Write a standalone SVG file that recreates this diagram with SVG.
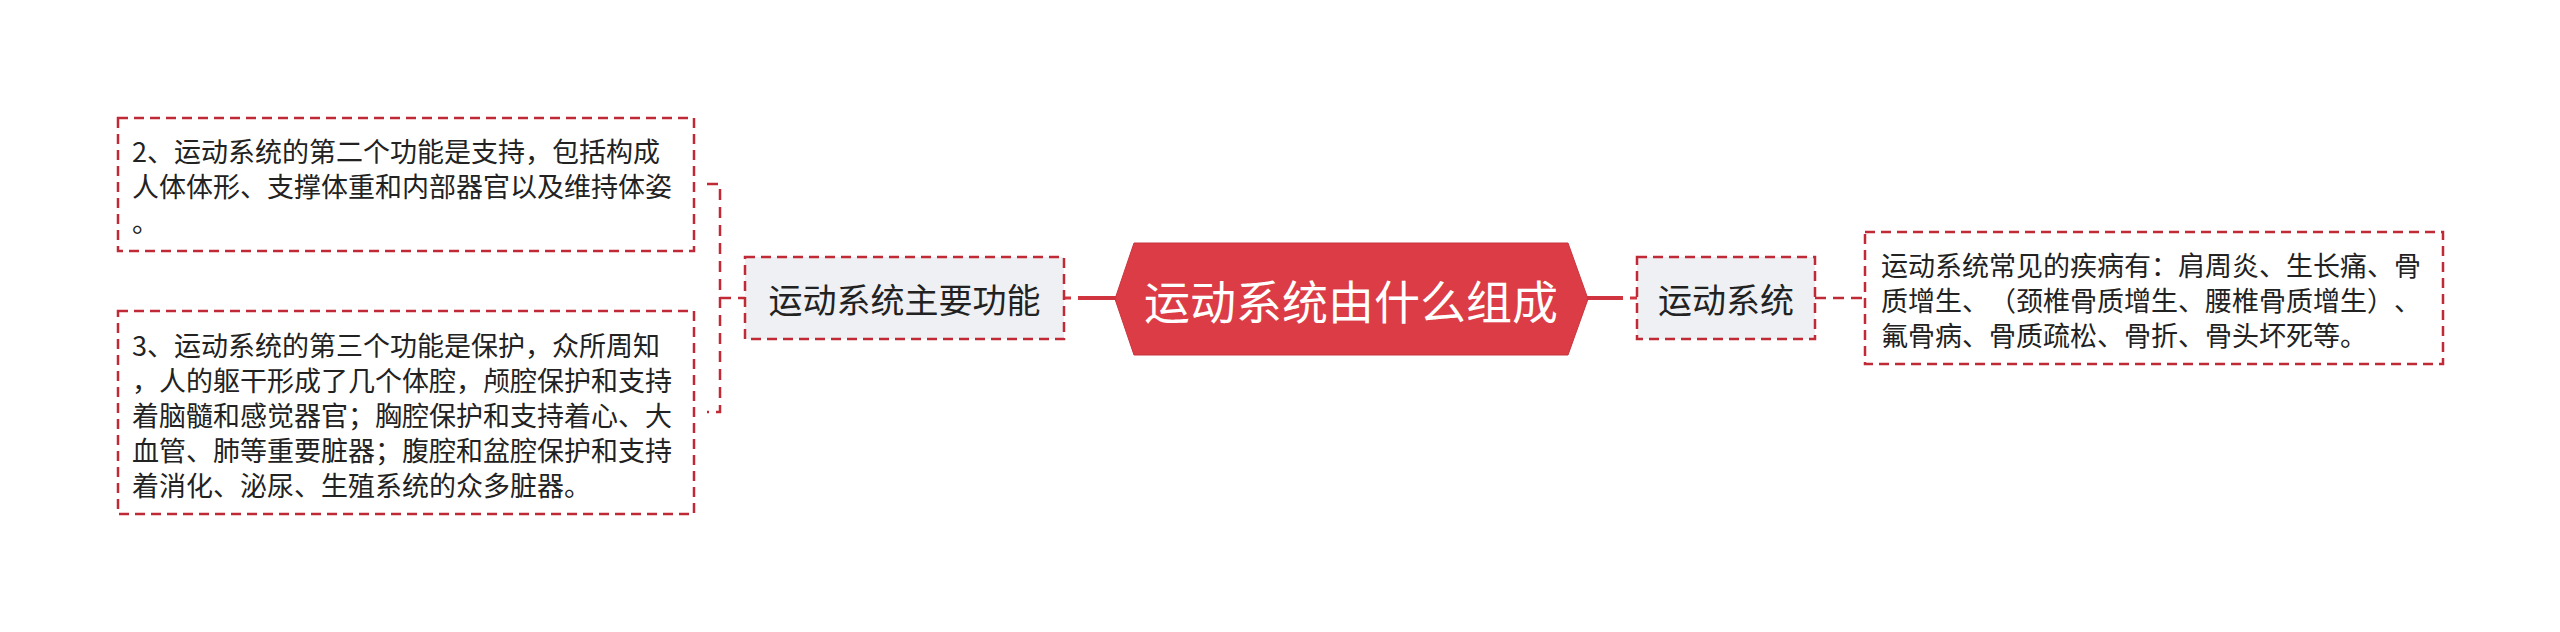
<svg xmlns="http://www.w3.org/2000/svg" width="2560" height="632" viewBox="0 0 2560 632">
<style>
.bg{fill:#ffffff}
.dbox{stroke:#bf2a36;stroke-width:2.5;stroke-dasharray:10 6}
.leaf{fill:#ffffff}
.sub{fill:#eef0f3}
.dash{fill:none;stroke:#bf2a36;stroke-width:2.5;stroke-dasharray:11 7}
.solid{fill:none;stroke:#d0343e;stroke-width:4}
.t{font-family:"Noto Sans CJK SC","Noto Sans",sans-serif;fill:#222222;text-spacing-trim:space-all}
.leaft{font-size:27px}
.subt{font-size:34px;text-anchor:middle;dominant-baseline:central}
.roott{font-family:"Noto Sans CJK SC","Noto Sans",sans-serif;font-size:46px;fill:#ffffff;text-anchor:middle;dominant-baseline:central}
</style>
<rect class="bg" x="0" y="0" width="2560" height="632"/>
<g id="connectors">
<line class="solid" x1="1078" y1="298" x2="1116" y2="298"/>
<line class="solid" x1="1064" y1="298" x2="1071" y2="298" style="stroke-width:3"/>
<line class="solid" x1="1587" y1="298" x2="1623" y2="298"/>
<line class="solid" x1="1630" y1="298" x2="1637" y2="298" style="stroke-width:3"/>
<path class="dash" d="M707,184 H720 V412 H707"/>
<path class="dash" d="M720,298 H745"/>
<path class="dash" d="M1815,298 H1865"/>
</g>
<g id="root">
<polygon points="1115,299 1134,243 1568,243 1588,299 1568,355 1134,355" fill="#dc3c45" stroke="#c9343d" stroke-width="1"/>
<text class="roott" x="1351" y="299">运动系统由什么组成</text>
</g>
<g id="main-functions">
<rect class="dbox sub" x="745" y="257" width="319" height="82"/>
<text class="t subt" x="904.5" y="298">运动系统主要功能</text>
</g>
<g id="support">
<rect class="dbox leaf" x="118" y="118" width="576" height="133"/>
<text class="t leaft" dominant-baseline="central">
<tspan x="132" y="149.5">2、运动系统的第二个功能是支持，包括构成</tspan>
<tspan x="132" y="184.5">人体体形、支撑体重和内部器官以及维持体姿</tspan>
<tspan x="132" y="219.5">。</tspan>
</text>
</g>
<g id="protection">
<rect class="dbox leaf" x="118" y="311" width="576" height="203"/>
<text class="t leaft" dominant-baseline="central">
<tspan x="132" y="343.5">3、运动系统的第三个功能是保护，众所周知</tspan>
<tspan x="132" y="378.5">，人的躯干形成了几个体腔，颅腔保护和支持</tspan>
<tspan x="132" y="413.5">着脑髓和感觉器官；胸腔保护和支持着心、大</tspan>
<tspan x="132" y="448.5">血管、肺等重要脏器；腹腔和盆腔保护和支持</tspan>
<tspan x="132" y="483.5">着消化、泌尿、生殖系统的众多脏器。</tspan>
</text>
</g>
<g id="system">
<rect class="dbox sub" x="1637" y="257" width="178" height="82"/>
<text class="t subt" x="1726" y="298">运动系统</text>
</g>
<g id="diseases">
<rect class="dbox leaf" x="1865" y="232" width="578" height="132"/>
<text class="t leaft" dominant-baseline="central">
<tspan x="1881" y="263.5">运动系统常见的疾病有：肩周炎、生长痛、骨</tspan>
<tspan x="1881" y="298.5">质增生、（颈椎骨质增生、腰椎骨质增生）、</tspan>
<tspan x="1881" y="333.5">氟骨病、骨质疏松、骨折、骨头坏死等。</tspan>
</text>
</g>
</svg>
